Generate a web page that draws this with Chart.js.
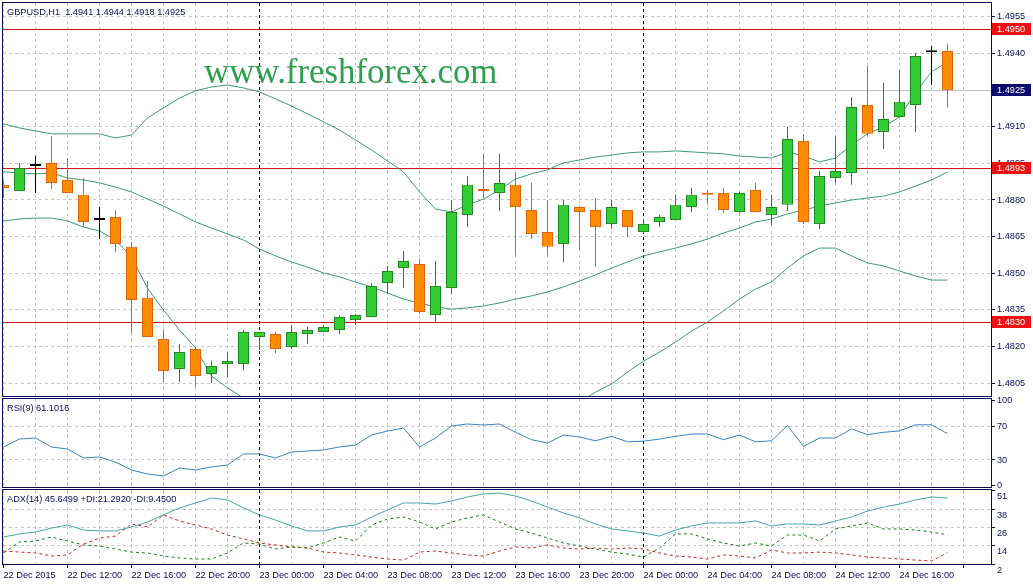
<!DOCTYPE html>
<html>
<head>
<meta charset="utf-8">
<script src="https://cdn.jsdelivr.net/npm/chart.js@4.4.1/dist/chart.umd.min.js"></script>
<style>
  html, body { margin: 0; padding: 0; background: #fff; }
  #wrap { position: relative; width: 1033px; height: 585px; overflow: hidden; background: #fff; }
  #wrap canvas { position: absolute; left: 0; top: 0; }
</style>
</head>
<body>
<div id="wrap">
  <canvas id="priceChart" width="1033" height="585"></canvas>
  <canvas id="rsiChart" width="1033" height="585"></canvas>
  <canvas id="adxChart" width="1033" height="585"></canvas>
</div>
<script>
// GBPUSD H1, 22 Dec 2015 08:00 .. 24 Dec 2015 19:00 (one value per bar)
const symbol = 'GBPUSD,H1';

const openP = [1.48862, 1.48837, 1.48939, 1.48952, 1.48882, 1.48821, 1.48718, 1.48730, 1.48608, 1.48399,
  1.48230, 1.48108, 1.48190, 1.48087, 1.48128, 1.48128, 1.48239, 1.48251, 1.48198, 1.48251,
  1.48259, 1.48267, 1.48308, 1.48321, 1.48460, 1.48521, 1.48538, 1.48329, 1.48439, 1.48739,
  1.48845, 1.48829, 1.48862, 1.48759, 1.48669, 1.48620, 1.48771, 1.48759, 1.48702, 1.48759,
  1.48669, 1.48710, 1.48718, 1.48771, 1.48829, 1.48829, 1.48751, 1.48841, 1.48739, 1.48780,
  1.49042, 1.48702, 1.48890, 1.48911, 1.49189, 1.49079, 1.49140, 1.49189, 1.49405, 1.4941];
const highP = [1.48882, 1.48952, 1.48980, 1.49062, 1.48972, 1.48890, 1.48771, 1.48759, 1.48628, 1.48468,
  1.48267, 1.48210, 1.48198, 1.48140, 1.48177, 1.48267, 1.48259, 1.48259, 1.48288, 1.48280,
  1.48288, 1.48329, 1.48333, 1.48460, 1.48530, 1.48591, 1.48558, 1.48550, 1.48800, 1.48898,
  1.48989, 1.48989, 1.48915, 1.48870, 1.48800, 1.48800, 1.48775, 1.48808, 1.48800, 1.48759,
  1.48722, 1.48739, 1.48821, 1.48849, 1.48841, 1.48849, 1.48833, 1.48870, 1.48821, 1.49099,
  1.49071, 1.48919, 1.49062, 1.49222, 1.49349, 1.49280, 1.49333, 1.49403, 1.49431, 1.4944];
const lowP = [1.48808, 1.48837, 1.48829, 1.48845, 1.48829, 1.48689, 1.48640, 1.48587, 1.48255, 1.48239,
  1.48054, 1.48054, 1.48034, 1.48050, 1.48075, 1.48103, 1.48185, 1.48173, 1.48190, 1.48210,
  1.48259, 1.48251, 1.48288, 1.48321, 1.48415, 1.48439, 1.48333, 1.48300, 1.48415, 1.48689,
  1.48808, 1.48755, 1.48575, 1.48640, 1.48575, 1.48546, 1.48595, 1.48525, 1.48681, 1.48648,
  1.48665, 1.48689, 1.48718, 1.48751, 1.48780, 1.48747, 1.48747, 1.48751, 1.48698, 1.48755,
  1.48702, 1.48681, 1.48870, 1.48862, 1.49062, 1.49009, 1.49140, 1.49079, 1.49271, 1.4918];
const closeP = [1.48849, 1.48931, 1.48939, 1.48870, 1.48829, 1.48710, 1.48718, 1.48620, 1.48390, 1.48239,
  1.48099, 1.48177, 1.48079, 1.48120, 1.48140, 1.48259, 1.48259, 1.48190, 1.48259, 1.48267,
  1.48280, 1.48321, 1.48329, 1.48448, 1.48509, 1.48550, 1.48341, 1.48448, 1.48751, 1.48862,
  1.48837, 1.48870, 1.48771, 1.48661, 1.48608, 1.48780, 1.48751, 1.48689, 1.48771, 1.48689,
  1.48702, 1.48730, 1.48780, 1.48821, 1.48821, 1.48759, 1.48829, 1.48751, 1.48771, 1.49050,
  1.48710, 1.48898, 1.48919, 1.49181, 1.49071, 1.49132, 1.49202, 1.49390, 1.49405, 1.4925];

// Bollinger bands
const bbUpper = [1.49112, 1.49095, 1.49083, 1.49071, 1.49071, 1.49071, 1.49071, 1.49054, 1.49066, 1.49136,
  1.49177, 1.49218, 1.49247, 1.49263, 1.49271, 1.49259, 1.49243, 1.49214, 1.49185, 1.49153,
  1.49120, 1.49087, 1.49046, 1.49005, 1.48960, 1.48915, 1.48833, 1.48763, 1.48751, 1.48780,
  1.48804, 1.48841, 1.48886, 1.48907, 1.48923, 1.48952, 1.48964, 1.48976, 1.48984, 1.48993,
  1.48997, 1.48997, 1.49001, 1.48997, 1.48993, 1.48989, 1.48980, 1.48976, 1.48972, 1.48997,
  1.48980, 1.48956, 1.48972, 1.49025, 1.49071, 1.49099, 1.49140, 1.49239, 1.49325, 1.49366];
const bbMiddle = [1.48915, 1.48911, 1.48907, 1.48911, 1.48890, 1.48882, 1.48870, 1.48853, 1.48833, 1.48804,
  1.48775, 1.48743, 1.48710, 1.48685, 1.48661, 1.48636, 1.48599, 1.48571, 1.48546, 1.48525,
  1.48501, 1.48485, 1.48464, 1.48444, 1.48419, 1.48394, 1.48378, 1.48362, 1.48353, 1.48358,
  1.48366, 1.48378, 1.48394, 1.48407, 1.48423, 1.48444, 1.48468, 1.48493, 1.48521, 1.48546,
  1.48571, 1.48587, 1.48603, 1.48620, 1.48640, 1.48665, 1.48685, 1.48710, 1.48722, 1.48743,
  1.48759, 1.48775, 1.48788, 1.48800, 1.48808, 1.48816, 1.48833, 1.48857, 1.48882, 1.48915];
const bbLower = [1.48714, 1.48722, 1.48726, 1.48726, 1.48714, 1.48689, 1.48673, 1.48636, 1.48566, 1.48439,
  1.48349, 1.48267, 1.48194, 1.48079, 1.48030, 1.47989, 1.47948, 1.47919, 1.47899, 1.47882,
  1.47874, 1.47870, 1.47866, 1.47866, 1.47870, 1.47866, 1.47915, 1.47952, 1.47956, 1.47940,
  1.47927, 1.47915, 1.47907, 1.47907, 1.47923, 1.47940, 1.47972, 1.48013, 1.48046, 1.48095,
  1.48140, 1.48177, 1.48218, 1.48263, 1.48300, 1.48345, 1.48394, 1.48435, 1.48464, 1.48521,
  1.48571, 1.48603, 1.48603, 1.48571, 1.48542, 1.48530, 1.48509, 1.48489, 1.48472, 1.48472];

// RSI(9)
const rsi = [45.3, 54.7, 55.9, 45.3, 42.9, 32.4, 33.5, 27.6, 18.2, 13.5,
  11.2, 20.6, 18.2, 21.8, 24.1, 37.1, 37.1, 32.4, 39.4, 40.6,
  41.8, 45.3, 47.6, 59.4, 64.1, 67.6, 45.3, 55.9, 70.0, 72.4,
  71.2, 72.4, 62.6, 53.9, 49.9, 59.4, 57.1, 52.6, 57.8, 51.4,
  52.2, 54.6, 57.8, 60.6, 60.6, 53.9, 59.4, 51.4, 52.6, 70.6,
  45.9, 55.9, 55.9, 66.6, 59.8, 62.6, 64.2, 71.4, 71.4, 61.1016];

// ADX(14)
const adx = [19.9, 21.9, 23.2, 25.8, 27.8, 24.5, 23.9, 23.9, 26.5, 29.8,
  34.5, 39.1, 42.4, 45.7, 44.4, 39.1, 34.5, 31.1, 27.2, 23.9,
  23.9, 26.5, 27.8, 33.1, 37.8, 42.4, 42.4, 41.7, 43.7, 46.4,
  48.4, 49.0, 47.0, 43.7, 39.7, 35.8, 32.5, 28.5, 25.2, 23.9,
  22.5, 20.5, 24.5, 27.2, 29.2, 29.2, 29.2, 30.5, 27.2, 28.5,
  28.5, 27.8, 30.5, 33.1, 37.1, 39.7, 41.7, 44.4, 46.4, 45.6499];
const plusDI = [9.3, 16.6, 17.2, 19.9, 17.2, 14.6, 13.9, 11.9, 9.9, 9.3,
  7.3, 6.0, 5.3, 5.3, 9.3, 15.9, 15.2, 11.9, 13.3, 12.6,
  15.9, 19.9, 17.2, 27.8, 31.8, 33.1, 29.8, 25.2, 29.8, 32.5,
  34.5, 29.8, 25.2, 22.5, 19.2, 15.9, 13.9, 11.9, 9.9, 8.6,
  6.6, 12.6, 21.9, 21.9, 18.6, 15.9, 13.9, 15.9, 13.9, 21.2,
  21.2, 17.2, 25.2, 27.2, 29.2, 25.2, 25.2, 24.5, 23.2, 21.292];
const minusDI = [10.6, 9.9, 9.3, 7.3, 8.0, 15.2, 19.2, 20.5, 28.5, 26.5,
  34.5, 30.5, 27.8, 25.2, 21.2, 18.6, 15.9, 14.6, 13.3, 12.6,
  9.9, 9.3, 8.0, 6.6, 5.3, 4.6, 9.9, 10.6, 9.3, 8.0,
  7.3, 10.6, 13.3, 12.6, 14.6, 12.6, 11.9, 12.6, 11.9, 12.6,
  11.9, 9.3, 7.3, 6.6, 5.3, 8.0, 7.3, 6.0, 11.3, 9.3,
  9.3, 9.9, 9.3, 8.0, 6.6, 6.0, 5.3, 4.6, 4.0, 9.45];

// axis labels: one every 4 bars
const timeLabels = ['22 Dec 2015', '22 Dec 12:00', '22 Dec 16:00', '22 Dec 20:00', '23 Dec 00:00',
  '23 Dec 04:00', '23 Dec 08:00', '23 Dec 12:00', '23 Dec 16:00', '23 Dec 20:00', '24 Dec 00:00',
  '24 Dec 04:00', '24 Dec 08:00', '24 Dec 12:00', '24 Dec 16:00'];
const priceTicks = [1.4805, 1.4820, 1.4835, 1.4850, 1.4865, 1.4880, 1.4895, 1.4910, 1.4925, 1.4940, 1.4955];
const rsiTicks = [0, 30, 70, 100];
const adxTicks = [2, 14, 26, 38, 51];
const levels = [1.4950, 1.4893, 1.4830];
const daySeparators = [16, 40];

const NAVY = '#0c0c5c';
const GRID = '#c6c6c6';
const SMALL_FONT = { family: '"Liberation Sans", Arial, sans-serif', size: 9.2 };
const FONT_CSS = '9.2px "Liberation Sans", Arial, sans-serif';
const X_MIN = -0.03125, X_MAX = 61.71875;

const idx = closeP.map((_, i) => i);
const kind = i => closeP[i] > openP[i] ? 'bull' : (closeP[i] < openP[i] ? 'bear' : 'doji');
const fillOf = { bull: '#32cd32', bear: '#ff8c00', doji: '#000000' };
const lineOf = { bull: '#1f8a1f', bear: '#e2620c', doji: '#000000' };

function timeAxis(withLabels) {
  return {
    type: 'linear', min: X_MIN, max: X_MAX, offset: false,
    afterBuildTicks: a => { const t = []; for (let v = 0; v <= 60; v += 2) t.push({ value: v }); a.ticks = t; },
    afterFit: a => { a.height = withLabels ? 21 : 0; a.paddingLeft = 0; a.paddingRight = 0; },
    grid: {
      offset: false, color: GRID, drawTicks: withLabels, tickLength: 4,
      tickColor: c => (c.tick && c.tick.value % 4 === 0) ? NAVY : 'rgba(0,0,0,0)'
    },
    border: { display: withLabels, color: NAVY, dash: [3, 3] },
    ticks: {
      display: withLabels, autoSkip: false, maxRotation: 0, minRotation: 0, align: 'start',
      padding: 2, color: NAVY, font: SMALL_FONT,
      callback: v => (v % 4 === 0 && timeLabels[v / 4]) ? timeLabels[v / 4] : ''
    }
  };
}

function valueAxis(list, min, max, gridOn, fmt, labelOffset) {
  return {
    position: 'right', min, max,
    afterBuildTicks: a => { a.ticks = list.map(v => ({ value: v })); },
    afterFit: a => { a.width = 42; a.paddingTop = 0; a.paddingBottom = 0; },
    grid: { color: c => (c.tick && gridOn(c.tick.value)) ? GRID : 'rgba(0,0,0,0)', tickLength: 4, tickColor: NAVY },
    border: { color: NAVY, dash: [3, 3] },
    ticks: { color: NAVY, font: SMALL_FONT, padding: 2, autoSkip: false, labelOffset: labelOffset || 0, callback: fmt }
  };
}

function decor(opts) {
  return {
    id: 'decor',
    beforeDatasetsDraw(chart) {
      const { ctx, chartArea: a, scales } = chart;
      ctx.save();
      ctx.beginPath(); ctx.rect(a.left, a.top, a.right - a.left, a.bottom - a.top); ctx.clip();
      if (opts.bid !== undefined) {
        const y = Math.round(scales.y.getPixelForValue(opts.bid)) + 0.5;
        ctx.strokeStyle = '#c0c0c0'; ctx.lineWidth = 1;
        ctx.beginPath(); ctx.moveTo(a.left, y); ctx.lineTo(a.right, y); ctx.stroke();
      }
      (opts.levels || []).forEach(v => {
        const y = Math.round(scales.y.getPixelForValue(v)) + 0.5;
        ctx.strokeStyle = '#d01818'; ctx.lineWidth = 1;
        ctx.beginPath(); ctx.moveTo(a.left, y); ctx.lineTo(a.right, y); ctx.stroke();
      });
      ctx.setLineDash([3, 3]); ctx.strokeStyle = '#000'; ctx.lineWidth = 1;
      daySeparators.forEach(b => {
        const x = Math.floor(scales.x.getPixelForValue(b)) + 0.5;
        ctx.beginPath(); ctx.moveTo(x, a.top); ctx.lineTo(x, a.bottom); ctx.stroke();
      });
      ctx.restore();
    },
    afterDraw(chart) {
      const { ctx, chartArea: a, scales } = chart;
      ctx.save();
      ctx.strokeStyle = NAVY; ctx.lineWidth = 1;
      ctx.strokeRect(a.left - 0.5, a.top - 0.5, a.right - a.left + 1, a.bottom - a.top + 1);
      ctx.font = FONT_CSS; ctx.textBaseline = 'middle'; ctx.textAlign = 'left';
      ctx.fillStyle = NAVY;
      ctx.fillText(opts.title, a.left + 4, a.top + 9);
      if (opts.watermark) {
        ctx.font = '34.8px "Liberation Serif", "Times New Roman", serif';
        ctx.fillStyle = '#2f9e4f'; ctx.textBaseline = 'alphabetic';
        ctx.fillText(opts.watermark, 204, 83);
      }
      const tag = (v, bg) => {
        const y = Math.round(scales.y.getPixelForValue(v));
        ctx.fillStyle = bg; ctx.fillRect(a.right + 1, y - 6, 39, 12);
        ctx.fillStyle = '#fff'; ctx.font = FONT_CSS; ctx.textBaseline = 'middle';
        ctx.fillText(v.toFixed(4), a.right + 6, y + 0.5);
      };
      (opts.levels || []).forEach(v => tag(v, '#ee1111'));
      if (opts.bid !== undefined) tag(opts.bid, '#0a0a6e');
      ctx.restore();
    }
  };
}

const baseOptions = (padding) => ({
  responsive: false, animation: false, devicePixelRatio: 1, events: [],
  layout: { padding },
  plugins: { legend: { display: false }, tooltip: { enabled: false } }
});

const lineSet = (values, color, dash) => ({
  type: 'line', data: idx.map(i => ({ x: i, y: values[i] })),
  borderColor: color, borderWidth: 1, borderDash: dash || [], pointRadius: 0, tension: 0, order: 3
});

// price panel: candles + Bollinger bands
const last = closeP.length - 1;
new Chart(document.getElementById('priceChart'), {
  type: 'bar',
  data: {
    datasets: [
      {
        data: idx.map(i => ({ x: i, y: [openP[i], closeP[i]] })),
        backgroundColor: idx.map(i => fillOf[kind(i)]),
        borderColor: idx.map(i => lineOf[kind(i)]),
        borderWidth: 1, borderSkipped: false, barThickness: 11, minBarLength: 2,
        inflateAmount: 0, grouped: false, order: 1
      },
      {
        data: idx.map(i => ({ x: i, y: [lowP[i], highP[i]] })),
        backgroundColor: idx.map(i => lineOf[kind(i)]),
        borderWidth: 0, barThickness: 1, inflateAmount: 0, grouped: false, order: 2
      },
      lineSet(bbUpper, '#3d9a6e'),
      lineSet(bbMiddle, '#3d9a6e'),
      lineSet(bbLower, '#3d9a6e')
    ]
  },
  options: Object.assign(baseOptions({ left: 3, right: 0, top: 3, bottom: 189 }), {
    scales: {
      x: timeAxis(false),
      y: valueAxis(priceTicks, 1.47997, 1.49607, () => true, v => v.toFixed(4))
    }
  }),
  plugins: [decor({
    title: symbol + '  ' + [openP[last], highP[last], lowP[last], closeP[last]].map(v => v.toFixed(4)).join(' '),
    watermark: 'www.freshforex.com',
    levels: levels,
    bid: closeP[last]
  })]
});

// RSI panel
new Chart(document.getElementById('rsiChart'), {
  type: 'line',
  data: { datasets: [lineSet(rsi, '#3a80c6')] },
  options: Object.assign(baseOptions({ left: 3, right: 0, top: 399, bottom: 98 }), {
    scales: {
      x: timeAxis(false),
      y: valueAxis(rsiTicks, -1.8, 101.8, v => v === 30 || v === 70, v => String(v))
    }
  }),
  plugins: [decor({ title: 'RSI(9) ' + rsi[last].toFixed(4) })]
});

// ADX panel
new Chart(document.getElementById('adxChart'), {
  type: 'line',
  data: {
    datasets: [
      lineSet(adx, '#45a6a6'),
      lineSet(plusDI, '#1c7a1c', [3, 3]),
      lineSet(minusDI, '#cc2020', [3, 3])
    ]
  },
  options: Object.assign(baseOptions({ left: 3, right: 0, top: 490, bottom: 0 }), {
    scales: {
      x: timeAxis(true),
      y: valueAxis(adxTicks, 2, 51, v => v > 2 && v < 51, v => String(v), 6)
    }
  }),
  plugins: [decor({
    title: 'ADX(14) ' + adx[last].toFixed(4) + ' +DI:' + plusDI[last].toFixed(4) + ' -DI:' + minusDI[last].toFixed(4)
  })]
});
</script>
</body>
</html>
